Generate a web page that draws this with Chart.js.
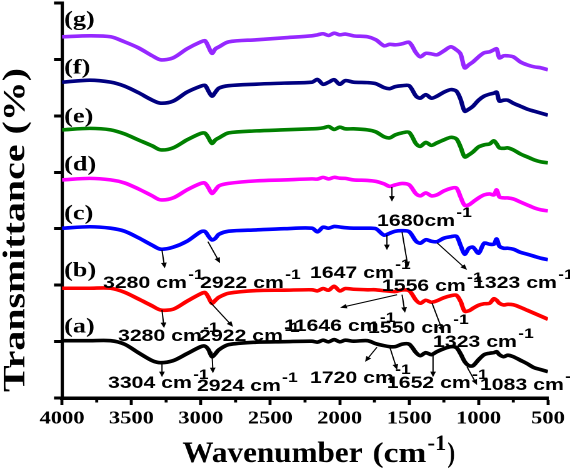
<!DOCTYPE html>
<html>
<head>
<meta charset="utf-8">
<script src="https://cdn.jsdelivr.net/npm/chart.js@4.4.1/dist/chart.umd.min.js"></script>
<style>
html, body { margin: 0; padding: 0; background: #fff; overflow: hidden; }
#ftir { display: block; }
</style>
</head>
<body>
<!-- drawn at 456px wide, shown at 570px: the source figure is stretched sideways -->
<canvas id="ftir" width="456" height="469" style="width:570px;height:469px"></canvas>
<script>
// Wavenumber grid (cm-1) shared by all spectra
const wavenumbers = [4000, 3800, 3650, 3550, 3450, 3350, 3290, 3200, 3100, 3000, 2970, 2945, 2920, 2895, 2870, 2800, 2600, 2400, 2200,
    2160, 2120, 2080, 2040, 2000, 1960, 1900, 1800,
    1740, 1680, 1640, 1600, 1550, 1500,
    1450, 1420, 1380, 1340, 1300, 1250, 1200, 1160, 1130, 1100, 1070, 1040,
    1000, 960, 920, 890, 870, 850, 820, 790, 750, 700, 650, 600, 550, 500];

// Transmittance (stacked, arbitrary offset)
const specA = [10.16, 10.16, 10.16, 9.54, 8.03, 6.61, 6.26, 6.61, 7.85, 9.10, 9.18, 8.56, 7.32, 7.85, 8.56, 9.45, 9.89, 9.98, 10.07,
    9.90, 10.24, 9.95, 10.35, 9.95, 10.24, 10.07, 10.16,
    9.63, 9.27, 9.10, 9.10, 9.54, 9.54,
    8.03, 7.50, 8.03, 7.68, 8.21, 8.74, 9.10, 8.92, 7.85, 6.44, 5.73, 5.73,
    6.79, 7.68, 7.94, 8.03, 8.21, 7.68, 7.32, 7.59, 7.32, 6.70, 6.08, 5.37, 5.02, 4.66];
const specB = [19.45, 19.45, 19.45, 18.74, 17.55, 16.31, 15.60, 15.73, 17.15, 18.48, 18.69, 17.85, 16.79, 17.32, 17.85, 18.56, 19.04, 19.10, 19.18,
    18.98, 19.40, 19.10, 19.80, 18.98, 19.40, 19.27, 19.18,
    19.18, 19.01, 18.92, 18.87, 19.15, 19.01,
    17.32, 16.79, 17.32, 16.97, 17.23, 17.77, 18.12, 18.21, 17.15, 15.37, 15.46, 15.90,
    16.44, 16.70, 16.79, 17.59, 17.32, 16.79, 16.49, 16.61, 16.52, 16.08, 15.55, 15.02, 14.49, 13.95];
const specC = [30.09, 30.35, 30.09, 29.56, 28.40, 27.07, 26.37, 26.72, 27.78, 29.47, 29.50, 28.67, 28.01, 28.32, 29.02, 29.56, 29.79, 30.00, 30.09,
    29.45, 30.27, 30.09, 30.40, 30.30, 30.18, 30.09, 30.09,
    30.00, 28.85, 29.20, 29.56, 29.65, 29.47,
    27.78, 27.43, 28.05, 27.78, 27.70, 28.32, 28.58, 28.67, 27.07, 25.48, 26.54, 26.72,
    25.66, 27.43, 27.25, 27.25, 28.19, 26.90, 26.54, 26.54, 26.37, 25.83, 25.48, 25.12, 24.77, 24.50];
const specD = [38.65, 38.92, 38.65, 38.12, 37.06, 35.82, 35.11, 35.46, 36.88, 38.03, 38.07, 37.23, 36.26, 36.88, 37.59, 38.03, 38.48, 38.65, 38.83,
    38.80, 39.10, 38.83, 39.10, 38.95, 38.92, 38.65, 38.56,
    38.39, 37.94, 37.50, 37.77, 38.03, 37.77,
    36.17, 35.82, 36.35, 35.82, 35.99, 36.70, 37.15, 37.23, 35.64, 34.13, 34.22, 34.75,
    35.46, 35.99, 36.17, 35.99, 36.88, 35.64, 35.46, 35.46, 35.28, 34.75, 34.22, 33.69, 33.33, 33.16];
const specE = [47.52, 47.78, 47.52, 46.81, 45.74, 44.68, 43.97, 44.33, 45.74, 46.90, 46.93, 46.10, 45.12, 45.74, 46.10, 46.99, 47.34, 47.52, 47.70,
    47.75, 47.87, 48.10, 47.60, 48.00, 47.70, 47.70, 47.52,
    47.16, 46.28, 46.10, 46.63, 46.99, 47.07,
    45.04, 44.59, 45.30, 44.77, 45.21, 45.74, 46.19, 45.92, 44.50, 42.73, 43.09, 43.62,
    44.50, 44.86, 45.04, 45.57, 45.04, 44.33, 44.24, 44.33, 43.97, 43.26, 42.73, 42.20, 41.84, 41.67];
const specF = [55.97, 56.33, 55.97, 55.27, 54.11, 52.78, 52.25, 52.61, 54.20, 55.27, 55.39, 54.38, 53.49, 54.20, 54.91, 55.35, 55.62, 55.80, 55.97,
    56.45, 55.60, 55.97, 56.40, 55.60, 56.25, 55.97, 55.89,
    55.71, 55.00, 54.82, 55.18, 55.35, 55.35,
    53.49, 53.14, 53.76, 53.14, 53.49, 54.20, 54.65, 54.38, 52.96, 50.83, 51.19, 51.72,
    52.78, 53.49, 53.85, 54.02, 54.20, 52.61, 52.78, 52.78, 52.25, 51.72, 51.19, 50.83, 50.48, 50.12];
const specG = [64.01, 64.18, 64.01, 63.12, 62.06, 60.64, 59.93, 60.28, 61.88, 63.12, 63.30, 62.23, 61.08, 61.88, 62.23, 63.12, 63.48, 63.83, 64.18,
    64.36, 64.55, 64.25, 64.65, 64.36, 64.50, 64.18, 64.01,
    63.48, 62.41, 62.68, 62.59, 62.77, 63.03,
    61.17, 60.46, 61.08, 60.99, 60.82, 61.52, 62.23, 61.70, 60.99, 58.51, 59.04, 59.57,
    60.46, 61.17, 61.35, 61.70, 61.88, 60.28, 60.64, 60.64, 60.46, 59.57, 59.04, 58.69, 58.51, 58.16];

const sampleNames = ["(a)", "(b)", "(c)", "(d)", "(e)", "(f)", "(g)"];
const spectra = [specA, specB, specC, specD, specE, specF, specG];
const colors = ["#000000", "#ff0000", "#0000ff", "#ff00ff", "#008000", "#000080", "#9628ff"];

const xTicks = [4000, 3500, 3000, 2500, 2000, 1500, 1000, 500];
const xMinorTicks = [3750, 3250, 2750, 2250, 1750, 1250, 750];

// where the (a)...(g) tags sit: wavenumber, transmittance
const tagPos = [[3985, 12.6], [3985, 22.5], [3985, 32.6], [3985, 41.3], [3985, 49.8], [3985, 58.5], [3985, 67.0]];

// peak labels: text, label wavenumber/transmittance, arrow from -> to
const peakNotes = [
    { text: "3280 cm", at: [3705, 19.50], arrow: [3280, 26.2, 3260, 23.0] },
    { text: "2922 cm", at: [3006, 19.50], arrow: [2949, 27.7, 2862, 23.9] },
    { text: "3280 cm", at: [3597, 10.11], arrow: [3280, 15.6, 3265, 12.4] },
    { text: "2922 cm", at: [3013, 10.11], arrow: [2934, 17.0, 2768, 12.6] },
    { text: "3304 cm", at: [3669, 1.77], arrow: [3280, 6.2, 3280, 3.7] },
    { text: "2924 cm", at: [3028, 1.24], arrow: [2920, 8.2, 2913, 4.4] },
    { text: "1680cm", at: [1731, 30.50], arrow: [1624, 37.4, 1624, 34.8] },
    { text: "1647 cm", at: [2214, 21.28], arrow: [1660, 28.9, 1660, 26.2] },
    { text: "1556 cm", at: [1696, 18.97], arrow: [1551, 29.4, 1508, 23.2] },
    { text: "1323 cm", at: [1040, 19.50], arrow: [1299, 27.5, 1083, 22.7] },
    { text: "11646 cm", at: [2401, 11.88], arrow: [1587, 18.3, 1998, 16.0] },
    { text: "1550 cm", at: [1796, 11.52], arrow: [1551, 18.3, 1530, 15.1] },
    { text: "1323 cm", at: [1328, 9.04], arrow: [1335, 16.8, 1256, 11.7] },
    { text: "1720 cm", at: [2214, 2.66], arrow: [1732, 9.0, 1818, 6.4] },
    { text: "1652 cm", at: [1660, 1.77], arrow: [1638, 8.9, 1587, 5.0] },
    { text: "", at: null, arrow: [1328, 7.6, 1328, 3.7] },
    { text: "1083 cm", at: [990, 1.42], arrow: [1083, 5.5, 1011, 2.3] }
];

function drawArrow(ctx, x1, y1, x2, y2) {
    const a = Math.atan2(y2 - y1, x2 - x1);
    const len = 5.5, half = 2.3;
    ctx.beginPath();
    ctx.moveTo(x1, y1);
    ctx.lineTo(x2 - len * 0.7 * Math.cos(a), y2 - len * 0.7 * Math.sin(a));
    ctx.stroke();
    const bx = x2 - len * Math.cos(a), by = y2 - len * Math.sin(a);
    ctx.beginPath();
    ctx.moveTo(x2, y2);
    ctx.lineTo(bx + half * Math.sin(a), by - half * Math.cos(a));
    ctx.lineTo(bx - half * Math.sin(a), by + half * Math.cos(a));
    ctx.closePath();
    ctx.fill();
}

// draw text squeezed/stretched to a given width
function fitText(ctx, text, x, y, width) {
    const w = ctx.measureText(text).width;
    ctx.save();
    ctx.translate(x, y);
    ctx.scale(width / w, 1);
    ctx.fillText(text, 0, 0);
    ctx.restore();
}

const extras = {
    id: "ftirExtras",
    afterDraw(chart) {
        const ctx = chart.ctx;
        const xs = chart.scales.x, ys = chart.scales.y;
        const bottom = chart.chartArea.bottom;
        ctx.save();
        ctx.fillStyle = "#000";
        ctx.strokeStyle = "#000";

        // minor ticks on the wavenumber axis
        ctx.lineWidth = 2.4;
        xMinorTicks.forEach(w => {
            const x = xs.getPixelForValue(w);
            ctx.beginPath();
            ctx.moveTo(x, bottom);
            ctx.lineTo(x, bottom + 4.5);
            ctx.stroke();
        });

        // sample tags
        ctx.font = "bold 21px 'Liberation Serif'";
        ctx.textBaseline = "middle";
        ctx.textAlign = "left";
        sampleNames.forEach((name, i) => {
            ctx.fillText(name, xs.getPixelForValue(tagPos[i][0]), ys.getPixelForValue(tagPos[i][1]));
        });

        // peak labels + arrows
        ctx.textBaseline = "alphabetic";
        ctx.lineWidth = 1;
        peakNotes.forEach(n => {
            const a = n.arrow;
            drawArrow(ctx, xs.getPixelForValue(a[0]), ys.getPixelForValue(a[1]),
                xs.getPixelForValue(a[2]), ys.getPixelForValue(a[3]));
            if (!n.at) return;
            const x = xs.getPixelForValue(n.at[0]), y = ys.getPixelForValue(n.at[1]);
            ctx.font = "bold 17px 'Liberation Sans'";
            ctx.fillText(n.text, x, y);
            const w = ctx.measureText(n.text).width;
            ctx.font = "bold 14px 'Liberation Sans'";
            ctx.fillText("-1", x + w + 1, y - 9);
        });

        // x axis title
        ctx.font = "bold 30px 'Liberation Serif'";
        fitText(ctx, "Wavenumber", 146, 462, 144);
        ctx.font = "bold 28px 'Liberation Serif'";
        fitText(ctx, "(cm", 298, 462, 43);
        ctx.font = "bold 22px 'Liberation Serif'";
        fitText(ctx, "-1", 342, 450, 15);
        ctx.font = "bold 28px 'Liberation Serif'";
        fitText(ctx, ")", 358, 462, 6);

        // y axis title
        ctx.save();
        ctx.translate(19.5, 230);
        ctx.rotate(-Math.PI / 2);
        ctx.font = "bold 25px 'Liberation Serif'";
        ctx.textAlign = "left";
        const label = "Transmittance (%)";
        const lw = ctx.measureText(label).width;
        ctx.scale(324 / lw, 1);
        ctx.fillText(label, -lw / 2, 0);
        ctx.restore();

        ctx.restore();
    }
};

const datasets = spectra.map((vals, i) => ({
    label: sampleNames[i],
    data: wavenumbers.map((w, j) => ({ x: w, y: vals[j] })),
    borderColor: colors[i],
    borderWidth: 3.6,
    pointRadius: 0,
    tension: 0.3,
    fill: false
}));

new Chart(document.getElementById("ftir"), {
    type: "line",
    data: { datasets: datasets },
    options: {
        responsive: false,
        devicePixelRatio: 2,
        animation: false,
        events: [],
        layout: { padding: { top: 3, right: 17.6, bottom: 0, left: 0 } },
        plugins: { legend: { display: false }, tooltip: { enabled: false } },
        scales: {
            x: {
                type: "linear",
                reverse: true,
                min: 500,
                max: 4000,
                afterBuildTicks: scale => { scale.ticks = xTicks.map(v => ({ value: v })); },
                afterFit: scale => { scale.height = 71; },
                border: { display: true, color: "#000", width: 3.5 },
                grid: { drawOnChartArea: false, drawTicks: true, tickLength: 7, tickWidth: 2.4, tickColor: "#000" },
                ticks: {
                    autoSkip: false,
                    maxRotation: 0,
                    padding: 3,
                    color: "#000",
                    callback: v => String(v),
                    font: { family: "'Liberation Serif'", size: 18, weight: "bold" }
                }
            },
            y: {
                min: 0,
                max: 70,
                afterFit: scale => { scale.width = 49.6; },
                border: { display: true, color: "#000", width: 2.6 },
                grid: { drawOnChartArea: false, drawTicks: true, tickLength: 6.4, tickWidth: 3, tickColor: "#000" },
                ticks: { stepSize: 10, display: false }
            }
        }
    },
    plugins: [extras]
});
</script>
</body>
</html>
